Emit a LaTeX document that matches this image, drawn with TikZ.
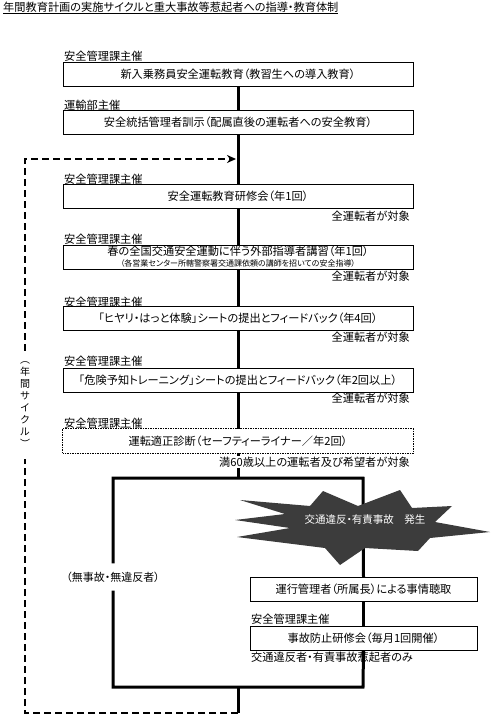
\documentclass[tikz,border=0pt]{standalone}
\usepackage{fontspec}
\setmainfont{Noto Sans CJK JP}[RawFeature=+palt]
\usetikzlibrary{arrows.meta}
\definecolor{burst}{HTML}{3C3C3C}
\begin{document}
\begin{tikzpicture}[x=1pt,y=-1pt,
  box/.style={draw, line width=0.8pt, fill=white, minimum width=350pt, minimum height=24pt, inner sep=0pt, font=\fontsize{11.2}{12}\selectfont},
  sbox/.style={draw, line width=0.8pt, fill=white, minimum width=227pt, minimum height=24pt, inner sep=0pt, font=\fontsize{11.2}{12}\selectfont},
  org/.style={anchor=west, inner sep=0pt, font=\fontsize{11.2}{12}\selectfont},
  note/.style={anchor=east, inner sep=0pt, font=\fontsize{11.2}{12}\selectfont},
  flow/.style={line width=3pt},
  cyc/.style={line width=2pt, dash pattern=on 7pt off 4pt}]
\useasboundingbox (0,0) rectangle (500,720);

\node[anchor=west, inner sep=0pt, font=\fontsize{11.2}{12}\selectfont] (title) at (3,8) {\underline{年間教育計画の実施サイクルと重大事故等惹起者への指導・教育体制}};

\node[org] (o1) at (64,56) {安全管理課主催};
\node[box] (b1) at (238,74) {新入乗務員安全運転教育（教習生への導入教育）};
\node[org] (o2) at (64,105) {運輸部主催};
\node[box] (b2) at (238,122.5) {安全統括管理者訓示（配属直後の運転者への安全教育）};
\node[org] (o3) at (64,179) {安全管理課主催};
\node[box] (b3) at (238,196) {安全運転教育研修会（年1回）};
\node[note] (n3) at (410,216) {全運転者が対象};
\node[org] (o4) at (64,239) {安全管理課主催};
\node[box, align=center] (b4) at (238,257) {春の全国交通安全運動に伴う外部指導者講習（年1回）\\[-1pt]{\fontsize{8}{10}\selectfont （各営業センター所轄警察署交通課依頼の講師を招いての安全指導）}};
\node[note] (n4) at (410,276) {全運転者が対象};
\node[org] (o5) at (64,302) {安全管理課主催};
\node[box] (b5) at (238,318.5) {「ヒヤリ・はっと体験」シートの提出とフィードバック（年4回）};
\node[note] (n5) at (410,337) {全運転者が対象};
\node[org] (o6) at (64,361) {安全管理課主催};
\node[box] (b6) at (238,380) {「危険予知トレーニング」シートの提出とフィードバック（年2回以上）};
\node[note] (n6) at (410,398) {全運転者が対象};
\node[org] (o7) at (64,423) {安全管理課主催};
\node[box, draw=none] (b7) at (238,441) {運転適正診断（セーフティーライナー／年2回）};
\draw[line width=0.8pt, dash pattern=on 1.5pt off 1pt] (b7.south west) rectangle (b7.north east);

\node[org] (o8) at (251,619) {安全管理課主催};
\node[sbox] (b8) at (363.5,589.5) {運行管理者（所属長）による事情聴取};
\node[sbox] (b9) at (363.5,638) {事故防止研修会（毎月1回開催）};

\node[inner sep=0pt, minimum height=27pt, font=\fontsize{11}{12}\selectfont] (nl) at (113,577) {（無事故・無違反者）};
\node[inner xsep=2pt, inner ysep=11pt, align=center, font=\fontsize{10}{12}\selectfont] (vt) at (25,405) {︵\\年\\間\\サ\\イ\\ク\\ル\\︶};

\coordinate (sp) at (238,478);
\coordinate (sr) at (363,478);
\coordinate (br) at (363,687);
\coordinate (bm) at (238,687);
\coordinate (dm) at (238,713);
\coordinate (ar) at (236,159);

\draw[flow] (b1) -- (b2);
\draw[flow] (b2) -- (b3);
\draw[flow] (b3) -- (b4);
\draw[flow] (b4) -- (b5);
\draw[flow] (b5) -- (b6);
\draw[flow] (b6) -- (b7);
\draw[flow] (b7.south) -- (sp);
\node[note, fill=white, inner sep=1pt] (n7) at (411,462) {満60歳以上の運転者及び希望者が対象};

\draw[flow] (nl.north) |- (sr) -- (b8.north);
\draw[flow] (b8.south) -- (b9.north);
\draw[flow] (nl.south) |- (br) -- (b9.south);
\draw[flow] (bm) -- (dm);

\fill[burst] (240,500) -- (310,506) -- (323,491) -- (358,506) -- (400,490) -- (412,508) -- (452,506) -- (435,522) -- (490,532) -- (430,538) -- (418,551) -- (365,548) -- (340,565) -- (325,548) -- (237,537) -- (290,528) -- (235,520) -- (285,514) -- cycle;
\node[text=white, inner sep=0pt, font=\fontsize{10.5}{12}\selectfont] (burstlabel) at (365,520) {交通違反・有責事故　発生};

\node[anchor=west, inner sep=0pt, font=\fontsize{11.2}{12}\selectfont] (n9) at (251,657) {交通違反者・有責事故惹起者のみ};

\draw[cyc] (dm) -| (vt.south);
\draw[cyc, -{Stealth[length=9pt, width=8pt]}] (vt.north) |- (ar);
\end{tikzpicture}
\end{document}
